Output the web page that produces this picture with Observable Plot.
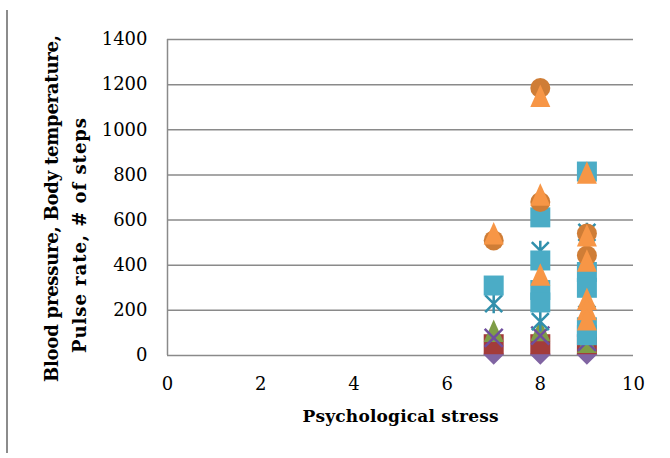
<!DOCTYPE html>
<html>
<head>
<meta charset="utf-8">
<script src="https://cdn.jsdelivr.net/npm/d3@7"></script>
<script src="https://cdn.jsdelivr.net/npm/@observablehq/plot@0.6"></script>
<style>
  html, body { margin: 0; padding: 0; background: #fff; }
  #wrap { position: relative; width: 670px; height: 458px; overflow: hidden; }
  #border { position: absolute; left: 6px; top: 10px; width: 2px; height: 443px; background: #8c8c8c; }
  #chart { position: absolute; left: 0; top: 0; }
</style>
</head>
<body>
<div id="wrap"><div id="border"></div><div id="chart"></div></div>
<script>
// ---- data ----
const xTicks = [0, 2, 4, 6, 8, 10];
const yTicks = [0, 200, 400, 600, 800, 1000, 1200, 1400];
const xTitle = "Psychological stress";
const yTitleLine1 = "Blood pressure, Body temperature,";
const yTitleLine2 = "Pulse rate, # of steps";

const xDiamond = [7, 8, 9];
const yDiamond = [5, 5, 5];
const xRedSquare = [7, 8, 9];
const yRedSquare = [50, 50, 50];
const xGreenTriangle = [7, 8, 9];
const yGreenTriangle = [108, 112, 60];
const xCross = [7, 8, 9];
const yCross = [78, 88, 60];
const xStar = [7, 8, 8, 9, 9];
const yStar = [230, 465, 150, 545, 250];
const xBlueSquare = [7, 8, 8, 8, 8, 9, 9, 9, 9, 9];
const yBlueSquare = [310, 612, 421, 290, 235, 815, 370, 300, 125, 90];
const xCircle = [7, 8, 8, 9, 9];
const yCircle = [510, 1185, 680, 540, 443];
const xTriangle = [7, 8, 8, 8, 9, 9, 9, 9, 9, 9];
const yTriangle = [540, 1150, 712, 358, 810, 532, 420, 250, 205, 160];

// ---- marker shapes (Excel-like) ----
const half = (size) => Math.sqrt(size / Math.PI);
const symSquare = { draw(c, s) { const h = half(s); c.rect(-h, -h, 2 * h, 2 * h); } };
const symDiamond = { draw(c, s) { const h = half(s) * 1.05; c.moveTo(0, -h); c.lineTo(h, 0); c.lineTo(0, h); c.lineTo(-h, 0); c.closePath(); } };
const symTriangle = { draw(c, s) { const h = half(s); c.moveTo(0, -1.15 * h); c.lineTo(h, 1.1 * h); c.lineTo(-h, 1.1 * h); c.closePath(); } };
const symCircle = { draw(c, s) { const h = half(s); c.moveTo(h, 0); c.arc(0, 0, h, 0, 2 * Math.PI); } };
const symCross = { draw(c, s) { const h = half(s) * 0.9; c.moveTo(-h, -h); c.lineTo(h, h); c.moveTo(h, -h); c.lineTo(-h, h); } };
const symStar = { draw(c, s) { const h = half(s) * 0.85; c.moveTo(-h, -h); c.lineTo(h, h); c.moveTo(h, -h); c.lineTo(-h, h); c.moveTo(0, -h * 1.15); c.lineTo(0, h * 1.15); } };

const pts = (xs, ys) => xs.map((x, i) => ({ x, y: ys[i] }));

const font = "'DejaVu Serif', serif";
const R = 10;

const chart = Plot.plot({
  width: 670,
  height: 458,
  marginLeft: 167,
  marginRight: 37,
  marginTop: 39,
  marginBottom: 103,
  style: { fontFamily: font, background: "transparent", color: "#000" },
  x: { domain: [0, 10] },
  y: { domain: [0, 1400] },
  marks: [
    Plot.gridY(yTicks, { stroke: "#8a8a8a", strokeOpacity: 1, strokeWidth: 1.5 }),
    Plot.ruleX([0], { y1: 0, y2: 1400, stroke: "#8a8a8a", strokeWidth: 1.5 }),
    Plot.axisY(yTicks, { tickSize: 0, tickPadding: 20, fontSize: 18, label: null, fill: "#000", tickFormat: (d) => String(d) }),
    Plot.axisX(xTicks, { tickSize: 0, tickPadding: 22, fontSize: 18, label: null, fill: "#000", tickFormat: (d) => String(d) }),
    Plot.text([xTitle], { frameAnchor: "bottom", textAnchor: "middle", dy: 66, fontSize: 17, fontWeight: "bold", fill: "#000" }),
    Plot.text([yTitleLine1], { frameAnchor: "left", textAnchor: "middle", dx: -115, dy: 11, rotate: -90, fontSize: 18, fontWeight: "bold", fill: "#000" }),
    Plot.text([yTitleLine2], { frameAnchor: "left", textAnchor: "middle", dx: -87, dy: 38, rotate: -90, fontSize: 18, fontWeight: "bold", fill: "#000" }),
    Plot.dot(pts(xDiamond, yDiamond), { x: "x", y: "y", r: R, symbol: symDiamond, fill: "#8064A2", stroke: "none" }),
    Plot.dot(pts(xRedSquare, yRedSquare), { x: "x", y: "y", r: R, symbol: symSquare, fill: "#A33C3A", stroke: "none" }),
    Plot.dot(pts(xGreenTriangle, yGreenTriangle), { x: "x", y: "y", r: R, symbol: symTriangle, fill: "#7F9D47", stroke: "none" }),
    Plot.dot(pts(xCross, yCross), { x: "x", y: "y", r: R, symbol: symCross, fill: "none", stroke: "#6F4E9E", strokeWidth: 2.5 }),
    Plot.dot(pts(xStar, yStar), { x: "x", y: "y", r: R, symbol: symStar, fill: "none", stroke: "#3190AC", strokeWidth: 2.5 }),
    Plot.dot(pts(xBlueSquare, yBlueSquare), { x: "x", y: "y", r: R, symbol: symSquare, fill: "#4BACC6", stroke: "none" }),
    Plot.dot(pts(xCircle, yCircle), { x: "x", y: "y", r: R, symbol: symCircle, fill: "#CF7D36", stroke: "none" }),
    Plot.dot(pts(xTriangle, yTriangle), { x: "x", y: "y", r: R, symbol: symTriangle, fill: "#F79646", stroke: "none" })
  ]
});
// fit title lengths to the reference's spacing
const fitLengths = new Map([[yTitleLine1, 347], [yTitleLine2, 235], [xTitle, 196]]);
d3.select(chart).selectAll("text").each(function () {
  const len = fitLengths.get(this.textContent);
  if (len) { this.setAttribute("textLength", len); this.setAttribute("lengthAdjust", "spacing"); }
});
document.getElementById("chart").appendChild(chart);
</script>
</body>
</html>
